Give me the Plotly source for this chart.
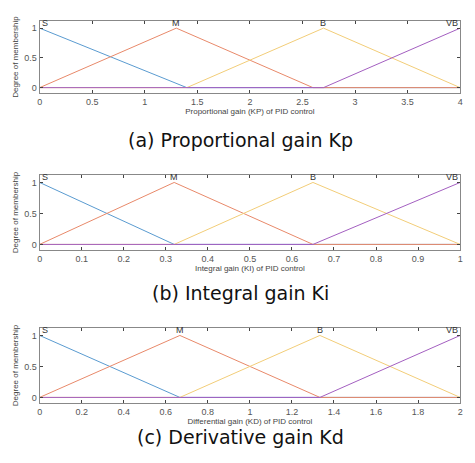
import plotly.graph_objects as go

names = ["S", "M", "B", "VB"]
# triangle vertices (x) per panel, per set; membership 0-1-0
kp_sets = [[0, 0, 1.4], [0, 1.3, 2.6], [1.4, 2.7, 4.0], [2.7, 4.0, 4.0]]
ki_sets = [[0, 0, 0.32], [0, 0.32, 0.65], [0.32, 0.65, 1.0], [0.65, 1.0, 1.0]]
kd_sets = [[0, 0, 0.667], [0, 0.667, 1.333], [0.667, 1.333, 2.0], [1.333, 2.0, 2.0]]
ranges = [4.0, 1.0, 2.0]
xtitles = ["Proportional gain (KP) of PID control", "Integral gain (KI) of PID control",
           "Differential gain (KD) of PID control"]
captions = ["(a) Proportional gain Kp", "(b) Integral gain Ki", "(c) Derivative gain Kd"]
xticks = [[0, 0.5, 1, 1.5, 2, 2.5, 3, 3.5, 4],
          [0, 0.1, 0.2, 0.3, 0.4, 0.5, 0.6, 0.7, 0.8, 0.9, 1],
          [0, 0.2, 0.4, 0.6, 0.8, 1, 1.2, 1.4, 1.6, 1.8, 2]]
colors = ["#5a9bd0", "#e8896a", "#f2cd78", "#a35fc0"]

W, H, OFF = 467, 455, 8
def py(s):  # screen y -> paper fraction
    return 1 - (s - OFF) / H
def px(s):
    return (s - OFF) / W

boxes = [(21, 93), (175, 250), (328, 403)]
cap_y = [140, 293, 437]

fig = go.Figure()
for p, sets in enumerate([kp_sets, ki_sets, kd_sets]):
    xa = "x" if p == 0 else f"x{p+1}"
    ya = "y" if p == 0 else f"y{p+1}"
    R = ranges[p]
    for i, (a, b, c) in enumerate(sets):
        xs = [0, a, b, c, R]
        ys = [0, 0, 1, 0, 0]
        if i == 0:
            xs, ys = [0, c, R], [1, 0, 0]
        if i == 3:
            xs, ys = [0, a, R], [0, 0, 1]
        fig.add_trace(go.Scatter(x=xs, y=ys, mode="lines", line=dict(color=colors[i], width=1),
                                 xaxis=xa, yaxis=ya, showlegend=False, hoverinfo="skip"))
        fig.add_annotation(x=b, y=1.0, xref=xa, yref=ya, text=names[i], showarrow=False,
                           yanchor="bottom", yshift=-2,
                           xanchor="left" if i == 0 else ("right" if i == 3 else "center"),
                           font=dict(size=9, color="#333"))
    ax = dict(domain=[px(37), px(463)], range=[0, R], tickvals=xticks[p], ticks="inside", ticklen=3,
              mirror="ticks", showline=True, linecolor="#888", linewidth=1, showgrid=False, zeroline=False,
              tickfont=dict(size=9, color="#555"),
              title=dict(text=xtitles[p], font=dict(size=8, color="#444"), standoff=2), anchor=ya)
    t, bt = boxes[p]
    ay = dict(domain=[py(bt), py(t)], range=[-0.09, 1.12], tickvals=[0, 0.5, 1], ticktext=["0", "0.5", "1"],
              ticks="inside", ticklen=3, mirror="ticks", showline=True, linecolor="#888", linewidth=1,
              showgrid=False, zeroline=False, tickfont=dict(size=9, color="#555"),
              title=dict(text="Degree of membership", font=dict(size=8, color="#444"), standoff=4), anchor=xa)
    fig.layout["xaxis" if p == 0 else f"xaxis{p+1}"] = ax
    fig.layout["yaxis" if p == 0 else f"yaxis{p+1}"] = ay
    fig.add_annotation(x=px(240), y=py(cap_y[p]), xref="paper", yref="paper", text=captions[p],
                       xanchor="center", yanchor="middle",
                       showarrow=False, font=dict(size=19, color="#111", family="DejaVu Sans"))

fig.update_layout(width=W, height=H, margin=dict(l=0, r=0, t=0, b=0), plot_bgcolor="white",
                  paper_bgcolor="white", font=dict(family="Liberation Sans"))
fig.write_html("out.html")
